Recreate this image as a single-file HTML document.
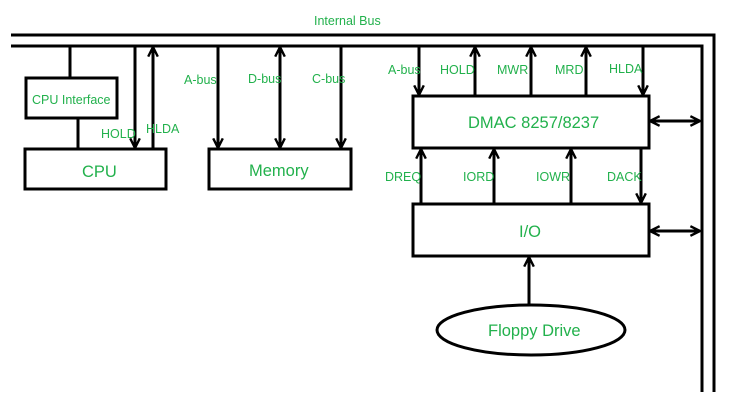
<!DOCTYPE html>
<html><head><style>
body{margin:0;background:#fff}
svg text{font-family:"Liberation Sans",sans-serif;fill:#22b14c}
</style></head><body>
<svg width="742" height="412" xmlns="http://www.w3.org/2000/svg">
<defs>
<marker id="a" viewBox="0 0 10 10" refX="9" refY="5" markerWidth="4" markerHeight="4" orient="auto-start-reverse" markerUnits="strokeWidth">
<path d="M1,1 L9,5 L1,9" fill="none" stroke="#000" stroke-width="2"/>
</marker>
</defs>
<g stroke="#000" stroke-width="3" fill="none">
<polyline points="11,35 714,35 714,392"/>
<polyline points="11,46 702,46 702,392"/>
<rect x="26" y="78" width="91" height="40"/>
<rect x="25" y="149" width="141" height="40"/>
<rect x="209" y="149" width="142" height="40"/>
<rect x="413" y="96" width="236" height="52"/>
<rect x="413" y="204" width="236" height="52"/>
<ellipse cx="531" cy="330" rx="94" ry="25"/>
<line x1="70" y1="46" x2="70" y2="78"/>
<line x1="78" y1="118" x2="78" y2="149"/>
<line x1="135" y1="46" x2="135" y2="148" marker-end="url(#a)"/>
<line x1="153" y1="149" x2="153" y2="47" marker-end="url(#a)"/>
<line x1="218" y1="46" x2="218" y2="148" marker-end="url(#a)"/>
<line x1="280" y1="47" x2="280" y2="148" marker-start="url(#a)" marker-end="url(#a)"/>
<line x1="341" y1="46" x2="341" y2="148" marker-end="url(#a)"/>
<line x1="419" y1="46" x2="419" y2="95" marker-end="url(#a)"/>
<line x1="475" y1="96" x2="475" y2="47" marker-end="url(#a)"/>
<line x1="531" y1="96" x2="531" y2="47" marker-end="url(#a)"/>
<line x1="586" y1="96" x2="586" y2="47" marker-end="url(#a)"/>
<line x1="643" y1="46" x2="643" y2="95" marker-end="url(#a)"/>
<line x1="421" y1="204" x2="421" y2="149" marker-end="url(#a)"/>
<line x1="494" y1="204" x2="494" y2="149" marker-end="url(#a)"/>
<line x1="571" y1="204" x2="571" y2="149" marker-end="url(#a)"/>
<line x1="641" y1="148" x2="641" y2="203" marker-end="url(#a)"/>
<line x1="650" y1="121" x2="700" y2="121" marker-start="url(#a)" marker-end="url(#a)"/>
<line x1="650" y1="231" x2="700" y2="231" marker-start="url(#a)" marker-end="url(#a)"/>
<line x1="529" y1="305" x2="529" y2="257" marker-end="url(#a)"/>
</g>
<g font-size="12.5">
<text x="314" y="25">Internal Bus</text>
<text x="101" y="138">HOLD</text>
<text x="146" y="133">HLDA</text>
<text x="184" y="84">A-bus</text>
<text x="248" y="83">D-bus</text>
<text x="312" y="83">C-bus</text>
<text x="388" y="74">A-bus</text>
<text x="440" y="74">HOLD</text>
<text x="497" y="74">MWR</text>
<text x="555" y="74">MRD</text>
<text x="609" y="73">HLDA</text>
<text x="385" y="181">DREQ</text>
<text x="463" y="181">IORD</text>
<text x="536" y="181">IOWR</text>
<text x="607" y="181">DACK</text>
<text x="32" y="104">CPU Interface</text>
</g>
<g font-size="16.5">
<text x="82" y="177">CPU</text>
<text x="249" y="176">Memory</text>
<text x="468" y="128">DMAC 8257/8237</text>
<text x="519" y="237">I/O</text>
<text x="488" y="336">Floppy Drive</text>
</g>
</svg>
</body></html>
